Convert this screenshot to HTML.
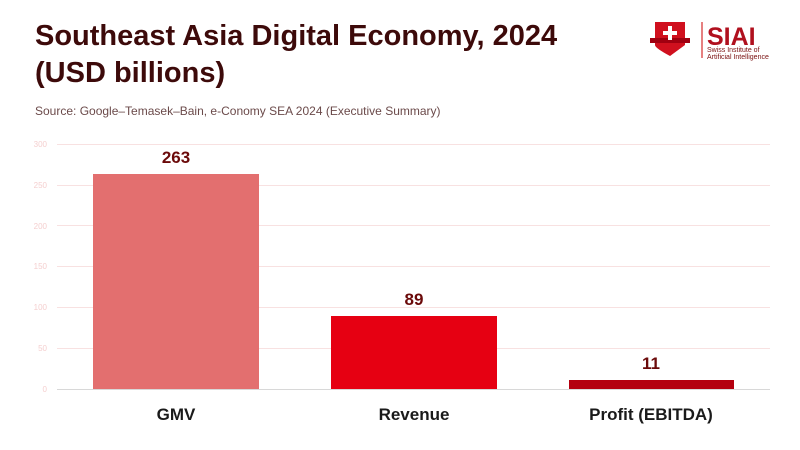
<!DOCTYPE html>
<html><head><style>
body{margin:0;width:800px;height:450px;background:#fff;font-family:"Liberation Sans",sans-serif;overflow:hidden;position:relative}
.t{position:absolute;left:35px;top:18px;font-size:29px;font-weight:bold;color:#3d0a0a;line-height:37px}
.s{position:absolute;left:35px;top:104px;font-size:12px;color:#6b4a4a}
</style></head><body>
<div class="t">Southeast Asia Digital Economy, 2024<br>(USD billions)</div>
<div class="s">Source: Google–Temasek–Bain, e-Conomy SEA 2024 (Executive Summary)</div>
<svg width="800" height="450" style="position:absolute;left:0;top:0">
<g font-size="8" fill="#f5cfcf" text-anchor="end">
<text x="47" y="147">300</text><text x="47" y="188">250</text><text x="47" y="229">200</text><text x="47" y="269">150</text><text x="47" y="310">100</text><text x="47" y="351">50</text><text x="47" y="392">0</text>
</g>
<g stroke="#f8e1e1" stroke-width="1">
<line x1="57" x2="770" y1="144.5" y2="144.5"/><line x1="57" x2="770" y1="185.5" y2="185.5"/><line x1="57" x2="770" y1="225.5" y2="225.5"/><line x1="57" x2="770" y1="266.5" y2="266.5"/><line x1="57" x2="770" y1="307.5" y2="307.5"/><line x1="57" x2="770" y1="348.5" y2="348.5"/>
</g>
<line x1="57" x2="770" y1="389.5" y2="389.5" stroke="#d8d8d8"/>
<rect x="93" y="174" width="166" height="215" fill="#e36f6f"/>
<rect x="331" y="316" width="166" height="73" fill="#e60012"/>
<rect x="569" y="380" width="165" height="9" fill="#b4000f"/>
<g font-size="17" font-weight="bold" fill="#6b0a0a" text-anchor="middle">
<text x="176" y="163">263</text><text x="414" y="305">89</text><text x="651" y="369">11</text>
</g>
<g font-size="17" font-weight="bold" fill="#1a1a1a" text-anchor="middle">
<text x="176" y="420">GMV</text><text x="414" y="420">Revenue</text><text x="651" y="420">Profit (EBITDA)</text>
</g>
<path d="M655 22 L685 22 L685 45 Q670 56 670 56 Q655 48 655 45 Z" fill="#d0101e"/>
<rect x="650" y="38" width="40" height="5" fill="#a00010"/>
<path d="M668 26h4v5h5v4h-5v5h-4v-5h-5v-4h5z" fill="#fff"/>
<line x1="702" x2="702" y1="22" y2="58" stroke="#c00" />
<text x="707" y="45" font-size="25" font-weight="bold" fill="#b0101e">SIAI</text>
<text x="707" y="52" font-size="7" fill="#7a1010">Swiss Institute of</text>
<text x="707" y="59" font-size="7" fill="#7a1010">Artificial Intelligence</text>
</svg>
</body></html>
